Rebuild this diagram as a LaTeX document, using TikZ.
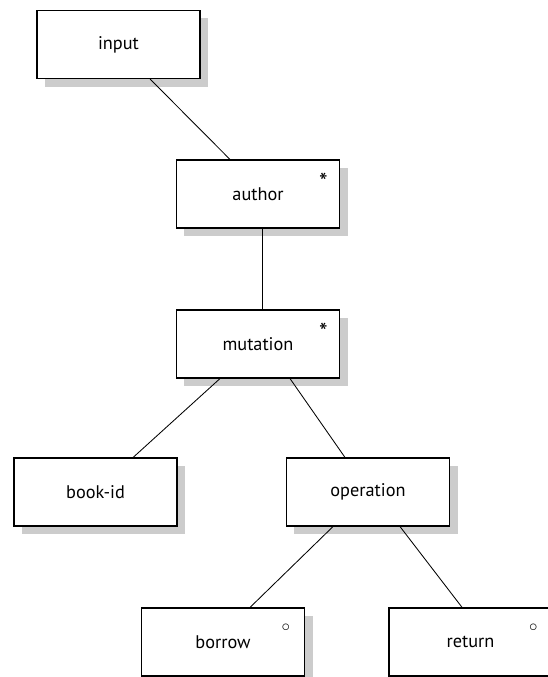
\documentclass[tikz,border=0pt]{standalone}
\usepackage{fontspec}
\setmainfont{PT Sans}
\usepackage{tikz}
\usetikzlibrary{shadows}
\usetikzlibrary{positioning}

\begin{document}
\begin{tikzpicture}[
  x=0.025cm, y=-0.025cm,
  elem/.style={rectangle,draw,line width=0.8pt,fill=white,
    minimum width=4.075cm,minimum height=1.7cm,inner sep=0pt,
    font=\fontsize{13}{15}\selectfont,
    drop shadow={shadow xshift=0.2cm,shadow yshift=-0.2cm,fill=gray!40,opacity=1}},
  mult/.style={inner sep=0pt,font=\large},
  edge/.style={line width=0.6pt}
]
\useasboundingbox (0,0) rectangle (547,677);

\node[elem] (input) at (118.5,44.5) {input};
\node[elem] (author) at (258,194) {author};
\node[elem] (mutation) at (258,344) {mutation};
\node[elem] (bookid) at (95.5,492) {book-id};
\node[elem] (operation) at (368,492) {operation};
\node[elem] (borrow) at (223,642) {borrow};
\node[elem] (return) at (470.5,642) {return};

% multiplicity marks
\node[mult,font=\LARGE] (authorstar) at ([xshift=-0.42cm,yshift=-0.55cm]author.north east) {*};
\node[mult,font=\LARGE] (mutationstar) at ([xshift=-0.42cm,yshift=-0.55cm]mutation.north east) {*};
\node[mult] (borrowopt) at ([xshift=-0.48cm,yshift=-0.5cm]borrow.north east) {$\circ$};
\node[mult] (returnopt) at ([xshift=-0.48cm,yshift=-0.5cm]return.north east) {$\circ$};

\draw[edge] ([xshift=0.79cm]input.south) -- ([xshift=-0.7cm]author.north);
\draw[edge] ([xshift=0.1cm]author.south) -- ([xshift=0.1cm]mutation.north);
\draw[edge] ([xshift=-0.95cm]mutation.south) -- ([xshift=0.94cm]bookid.north);
\draw[edge] ([xshift=0.8cm]mutation.south) -- ([xshift=-0.575cm]operation.north);
\draw[edge] ([xshift=-0.875cm]operation.south) -- ([xshift=0.675cm]borrow.north);
\draw[edge] ([xshift=0.8cm]operation.south) -- ([xshift=-0.21cm]return.north);
\end{tikzpicture}
\end{document}
